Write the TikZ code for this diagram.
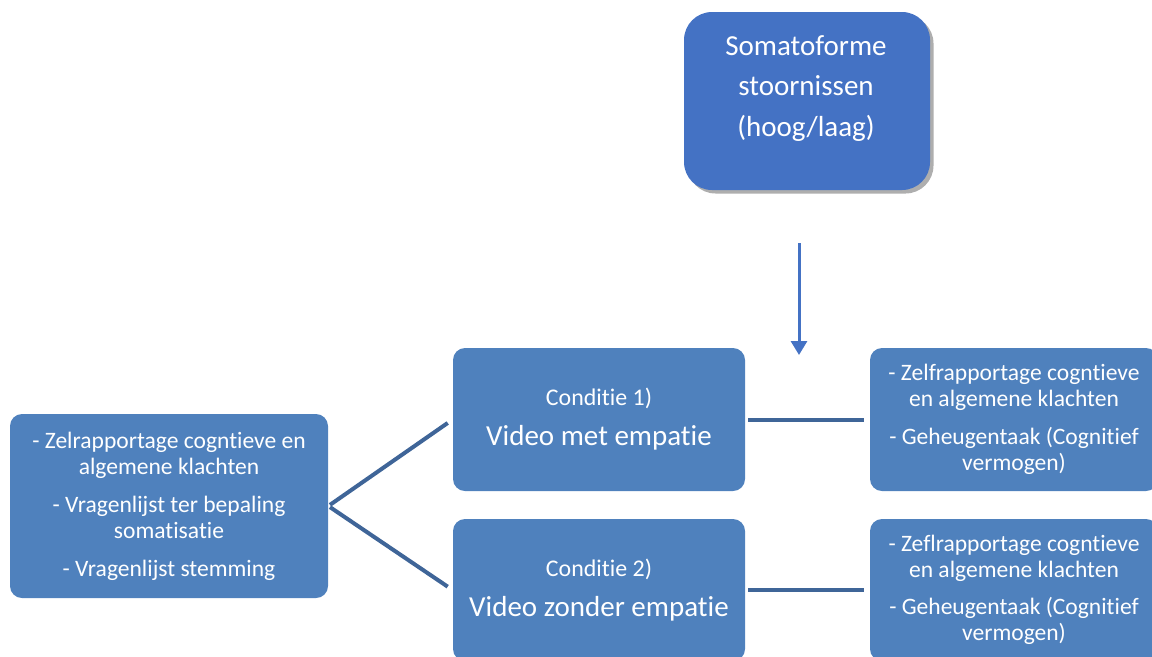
\documentclass[tikz,border=0pt]{standalone}
\usepackage{fontspec}
\setmainfont{Carlito}[Ligatures={NoCommon}]
\usetikzlibrary{arrows.meta,positioning,shadows}
\definecolor{topblue}{HTML}{4472C4}
\definecolor{boxblue}{HTML}{4F81BD}
\definecolor{linkblue}{HTML}{3F6598}
\definecolor{arrblue}{HTML}{4472C4}

\begin{document}
\begin{tikzpicture}[
  >={Triangle[length=0.28cm,width=0.32cm]},
  topbox/.style={fill=topblue, rounded corners=0.56cm, minimum width=4.92cm, minimum height=3.56cm, inner sep=0pt,
    drop shadow={shadow xshift=0.07cm, shadow yshift=-0.07cm, fill=black!45, opacity=0.7}},
  toptext/.style={text=white, align=center, inner sep=0pt, font=\fontsize{16.5}{23.2}\selectfont},
  infobox/.style={fill=boxblue, rounded corners=0.24cm, minimum height=2.86cm, inner sep=0pt, text=white, align=center,
    font=\fontsize{13.4}{14.8}\selectfont},
  condbox/.style={infobox, minimum width=5.84cm, font=\fontsize{16.5}{22.7}\selectfont},
  link/.style={draw=linkblue, line width=0.08cm},
]
\useasboundingbox (0,0) rectangle (23.04,-13.12);
\clip (0,0) rectangle (23.04,-13.12);

\node[topbox] (soma) at (16.14,-2.02) {};
\node[toptext] (somatxt) at (16.12,-1.77) {Somatoforme\\stoornissen\\(hoog/laag)};

\node[infobox, minimum width=6.36cm, minimum height=3.68cm] (pre) at (3.38,-10.12)
  {- Zelrapportage cogntieve en\\algemene klachten\\[6.8pt]- Vragenlijst ter bepaling\\somatisatie\\[6.8pt]- Vragenlijst stemming};

\node[condbox] (cond1) at (11.98,-8.39) {{\fontsize{13.6}{15}\selectfont Conditie 1)}\\Video met empatie};
\node[condbox, minimum height=2.84cm] (cond2) at (11.98,-11.8) {{\fontsize{13.6}{15}\selectfont Conditie 2)}\\Video zonder empatie};

\node[infobox, minimum width=5.76cm] (post1) at (20.28,-8.39)
  {- Zelfrapportage cogntieve\\en algemene klachten\\[6.5pt]- Geheugentaak (Cognitief\\vermogen)};
\node[infobox, minimum width=5.76cm, minimum height=2.84cm] (post2) at (20.28,-11.8)
  {- Zeflrapportage cogntieve\\en algemene klachten\\[6.5pt]- Geheugentaak (Cognitief\\vermogen)};

\draw[link, shorten <=0.04cm, shorten >=0.12cm] (pre.east) -- (cond1.west);
\draw[link, shorten <=0.04cm, shorten >=0.12cm] (pre.east) -- (cond2.west);
\draw[link, shorten <=0.06cm, shorten >=0.12cm] (cond1.east) -- (post1.west);
\draw[link, shorten <=0.06cm, shorten >=0.12cm] (cond2.east) -- (post2.west);

\coordinate (arrtop) at (15.98,-4.86);
\coordinate (arrend) at (15.98,-7.1);
\draw[->, draw=arrblue, fill=arrblue, line width=0.06cm] (arrtop) -- (arrend);

\end{tikzpicture}
\end{document}
